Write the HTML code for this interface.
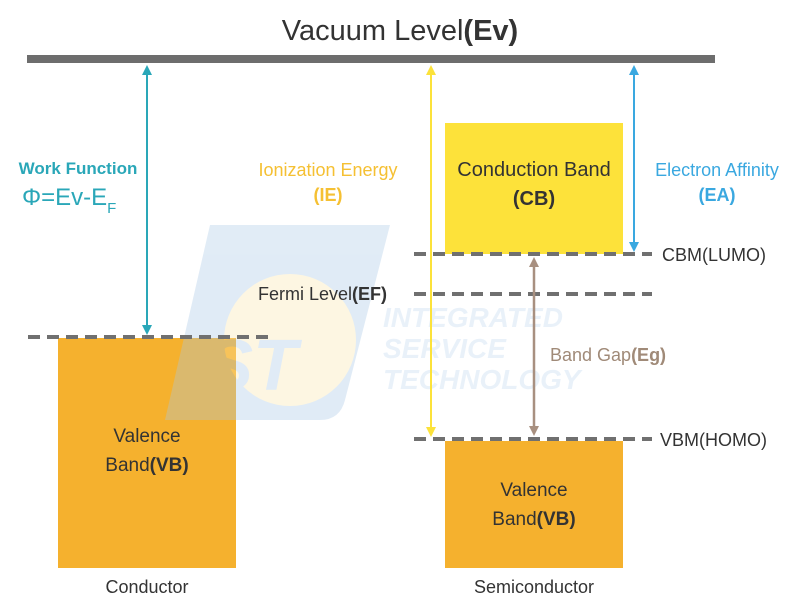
<!DOCTYPE html>
<html><head><meta charset="utf-8"><style>
html,body{margin:0;padding:0;background:#fff;}
svg{display:block;font-family:"Liberation Sans",sans-serif;}
</style></head><body>
<svg width="800" height="605" viewBox="0 0 800 605" xmlns="http://www.w3.org/2000/svg">
<defs>
<marker id="aT" markerWidth="10" markerHeight="10" refX="5" refY="5" orient="auto-start-reverse" markerUnits="userSpaceOnUse"><path d="M0,0 L10,5 L0,10 z" fill="#2aa7b8"/></marker>
<marker id="aY" markerWidth="10" markerHeight="10" refX="5" refY="5" orient="auto-start-reverse" markerUnits="userSpaceOnUse"><path d="M0,0 L10,5 L0,10 z" fill="#fce23a"/></marker>
<marker id="aB" markerWidth="10" markerHeight="10" refX="5" refY="5" orient="auto-start-reverse" markerUnits="userSpaceOnUse"><path d="M0,0 L10,5 L0,10 z" fill="#3aa8e0"/></marker>
<marker id="aG" markerWidth="10" markerHeight="10" refX="5" refY="5" orient="auto-start-reverse" markerUnits="userSpaceOnUse"><path d="M0,0 L10,5 L0,10 z" fill="#a89080"/></marker>
</defs>
<text x="400" y="40" font-size="29" text-anchor="middle" fill="#333">Vacuum Level<tspan font-weight="bold">(Ev)</tspan></text>
<rect x="27" y="55" width="688" height="8" fill="#6d6d6d"/>

<rect x="58" y="338" width="178" height="230" fill="#f5b12e"/>
<rect x="445" y="123" width="178" height="131" fill="#fde23a"/>
<rect x="445" y="441" width="178" height="127" fill="#f5b12e"/>

<!-- watermark -->
<g opacity="0.35">
<path d="M210,225 L390,225 L345,400 Q340,420 320,420 L165,420 Z" fill="#a9c8e6"/>
<circle cx="290" cy="340" r="66" fill="#fbe7ad"/>
<text x="185" y="390" font-size="72" font-weight="bold" font-style="italic" fill="#a9c8e6">iST</text>
</g>
<g opacity="0.45" font-size="28" font-weight="bold" font-style="italic" fill="#cfe2f3">
<text x="383" y="327">INTEGRATED</text>
<text x="383" y="358">SERVICE</text>
<text x="383" y="389">TECHNOLOGY</text>
</g>

<g stroke="#707070" stroke-width="4" stroke-dasharray="12,7">
<line x1="28" y1="337" x2="268" y2="337"/>
<line x1="414" y1="254" x2="652" y2="254"/>
<line x1="414" y1="294" x2="652" y2="294"/>
<line x1="414" y1="439" x2="652" y2="439"/>
</g>

<line x1="147" y1="70" x2="147" y2="330" stroke="#2aa7b8" stroke-width="2" marker-start="url(#aT)" marker-end="url(#aT)"/>
<line x1="431" y1="70" x2="431" y2="432" stroke="#fce23a" stroke-width="2" marker-start="url(#aY)" marker-end="url(#aY)"/>
<line x1="634" y1="70" x2="634" y2="247" stroke="#3aa8e0" stroke-width="2" marker-start="url(#aB)" marker-end="url(#aB)"/>
<line x1="534" y1="262" x2="534" y2="431" stroke="#a89080" stroke-width="2.5" marker-start="url(#aG)" marker-end="url(#aG)"/>

<text x="78" y="174" font-size="17" font-weight="bold" fill="#2aa7b8" text-anchor="middle">Work Function</text>
<text x="22" y="205" font-size="24" fill="#2aa7b8">Φ=Ev-E<tspan font-size="15" dy="8">F</tspan></text>
<text x="328" y="176" font-size="18" fill="#f5c033" text-anchor="middle">Ionization Energy</text>
<text x="328" y="201" font-size="18" font-weight="bold" fill="#f5c033" text-anchor="middle">(IE)</text>
<text x="534" y="176" font-size="20" fill="#333" text-anchor="middle">Conduction Band</text>
<text x="534" y="205" font-size="20" font-weight="bold" fill="#333" text-anchor="middle">(CB)</text>
<text x="717" y="176" font-size="18" fill="#3aa8e0" text-anchor="middle">Electron Affinity</text>
<text x="717" y="201" font-size="18" font-weight="bold" fill="#3aa8e0" text-anchor="middle">(EA)</text>
<text x="662" y="261" font-size="18" fill="#333">CBM(LUMO)</text>
<text x="258" y="300" font-size="18" fill="#333">Fermi Level<tspan font-weight="bold">(EF)</tspan></text>
<text x="550" y="361" font-size="18" fill="#a08a78">Band Gap<tspan font-weight="bold">(Eg)</tspan></text>
<text x="660" y="446" font-size="18" fill="#333">VBM(HOMO)</text>
<text x="147" y="442" font-size="19" fill="#333" text-anchor="middle">Valence</text>
<text x="147" y="471" font-size="19" fill="#333" text-anchor="middle">Band<tspan font-weight="bold">(VB)</tspan></text>
<text x="534" y="496" font-size="19" fill="#333" text-anchor="middle">Valence</text>
<text x="534" y="525" font-size="19" fill="#333" text-anchor="middle">Band<tspan font-weight="bold">(VB)</tspan></text>
<text x="147" y="593" font-size="18" fill="#333" text-anchor="middle">Conductor</text>
<text x="534" y="593" font-size="18" fill="#333" text-anchor="middle">Semiconductor</text>
</svg>
</body></html>
